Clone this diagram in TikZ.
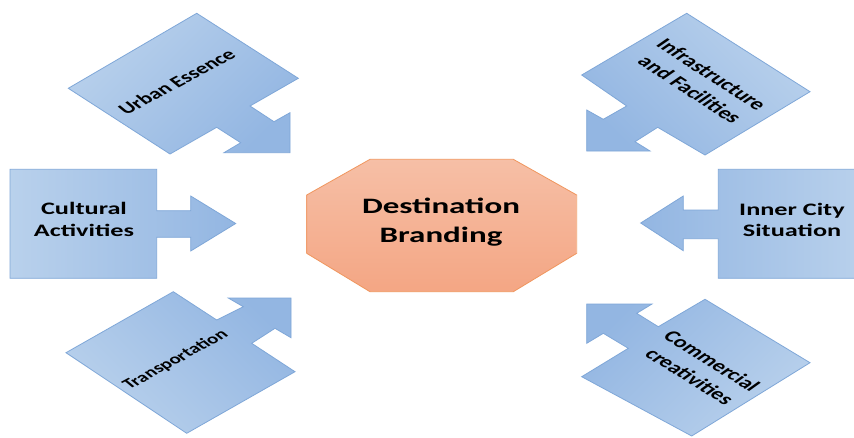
\documentclass[tikz,border=0pt]{standalone}
\usepackage{fontspec}
\setmainfont{Carlito}
\definecolor{bluelight}{HTML}{B9D1EC}
\definecolor{bluedark}{HTML}{93B6E2}
\definecolor{blueline}{HTML}{7FA7D8}
\definecolor{peachlight}{HTML}{F6BFA6}
\definecolor{peachdark}{HTML}{F4A684}
\definecolor{peachline}{HTML}{F0965E}
\tikzset{
  callout/.style={draw=blueline, line width=0.8pt, line join=miter,
    top color=bluelight, bottom color=bluedark},
  octa/.style={draw=peachline, line width=0.8pt, line join=miter,
    top color=peachlight, bottom color=peachdark},
  lbl/.style={text=black, align=center, inner sep=0pt, transform shape},
}
\begin{document}
\begin{tikzpicture}[x=1pt,y=-1pt]
\useasboundingbox (0,0) rectangle (854,437);
\fill[white] (0,0) rectangle (854,437);

% Urban Essence (arrow down-right)
\path[callout, shading angle=45] (196.7,13.3) -- (298.3,78.3) -- (250,106) -- (274,121.7)
  -- (290,112.7) -- (290,152.7) -- (224,152.7) -- (240.7,142.7) -- (216.7,127.3)
  -- (170,154) -- (68.3,88.3) -- cycle;

% Infrastructure and Facilities (arrow down-left)
\path[callout, shading angle=-45] (686.7,13.3) -- (810,91.7) -- (705,155) -- (657.7,127.3)
  -- (635,141.7) -- (650,151) -- (586.7,151) -- (586.7,110) -- (603.3,119.3)
  -- (626.7,106) -- (581.7,75) -- cycle;

% Transportation (arrow up-right)
\path[callout, shading angle=135] (173.3,291.7) -- (216.7,320) -- (243.3,306.7) -- (228.3,298)
  -- (291,298) -- (291,337.7) -- (275,328.3) -- (251.7,343.3) -- (295,371.7)
  -- (186.7,433.3) -- (66,352.7) -- cycle;

% Commercial creativities (arrow up-left)
\path[callout, shading angle=-135] (705,299.3) -- (810,362.7) -- (691.7,436) -- (581.7,376.7)
  -- (628.3,348.3) -- (603.3,333.3) -- (586.7,343.3) -- (586.7,304) -- (652,304)
  -- (636.7,313.3) -- (658.3,326.7) -- cycle;

% Cultural Activities (arrow right)
\path[callout, shading angle=90] (10,169.3) -- (156.7,169.3) -- (156.7,210.7) -- (190.7,210.7)
  -- (190.7,196) -- (235.7,223.5) -- (190.7,251) -- (190.7,237.3) -- (156.7,237.3)
  -- (156.7,278.3) -- (10,278.3) -- cycle;

% Inner City Situation (arrow left), box runs past the right edge
\path[callout, shading angle=-90] (866,169.3) -- (718.3,169.3) -- (718.3,210) -- (683.3,210)
  -- (683.3,196) -- (640.7,223) -- (683.3,250.7) -- (683.3,238.7) -- (718.3,238.7)
  -- (718.3,278.3) -- (866,278.3) -- cycle;

% Destination Branding octagon
\path[octa] (370,159.3) -- (513.3,159.3) -- (576.7,195) -- (576.7,253.3) -- (513.3,291.7)
  -- (370,291.7) -- (306.7,253.3) -- (306.7,195) -- cycle;

% Labels
\begin{scope}[shift={(441,222)}, xscale=1.5]
  \node[lbl, font=\bfseries\fontsize{22}{29}\selectfont] (dest) {Destination\\Branding};
\end{scope}
\begin{scope}[shift={(84,219)}, xscale=1.5]
  \node[lbl, font=\bfseries\fontsize{17.5}{22}\selectfont] (cult) {Cultural\\Activities};
\end{scope}
\begin{scope}[shift={(792,220)}, xscale=1.5]
  \node[lbl, font=\bfseries\fontsize{17.5}{21.5}\selectfont] (inner) {Inner City\\Situation};
\end{scope}
\begin{scope}[shift={(176.7,81.7)}, xscale=1.5]
  \node[lbl, rotate=39, font=\bfseries\fontsize{15.7}{19}\selectfont] (urban) {Urban Essence};
\end{scope}
\begin{scope}[shift={(175.7,360)}, xscale=1.5]
  \node[lbl, rotate=39, font=\bfseries\fontsize{14}{17}\selectfont] (trans) {Transportation};
\end{scope}
\begin{scope}[shift={(701,82)}, xscale=1.5]
  \node[lbl, rotate=-44, font=\bfseries\fontsize{16.5}{21}\selectfont] (infra) {Infrastructure\\and Facilities};
\end{scope}
\begin{scope}[shift={(701,368.7)}, xscale=1.5]
  \node[lbl, rotate=-43, font=\bfseries\fontsize{16.3}{21.5}\selectfont] (comm) {Commercial\\creativities};
\end{scope}
\end{tikzpicture}
\end{document}
